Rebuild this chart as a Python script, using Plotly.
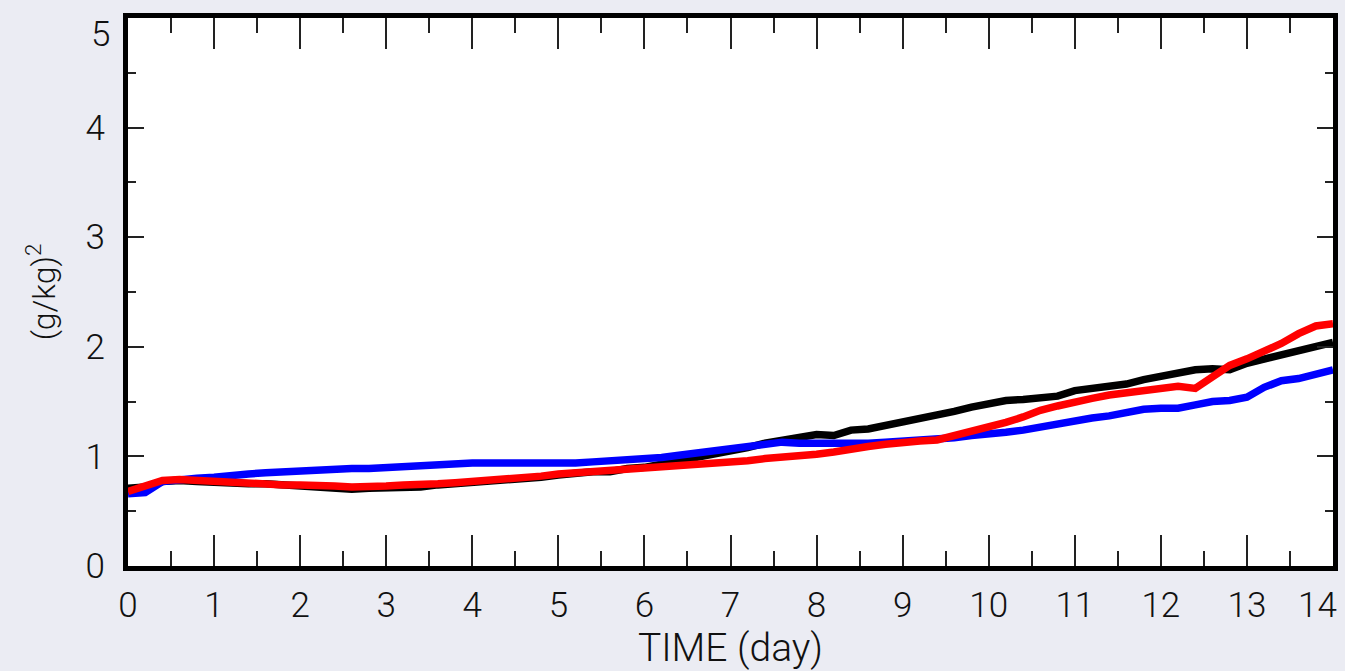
import plotly.graph_objects as go

# Time axis (days), sampled every 0.2 day
days = [round(i * 0.2, 1) for i in range(71)]

black_vals = [
    0.71, 0.72, 0.77, 0.78, 0.77, 0.76, 0.76, 0.75, 0.75, 0.74,
    0.73, 0.73, 0.71, 0.70, 0.71, 0.71, 0.72, 0.72, 0.74, 0.75,
    0.76, 0.77, 0.78, 0.80, 0.81, 0.83, 0.85, 0.86, 0.86, 0.89,
    0.90, 0.93, 0.95, 0.98, 1.01, 1.04, 1.08, 1.12, 1.15, 1.18,
    1.20, 1.19, 1.24, 1.25, 1.28, 1.32, 1.34, 1.37, 1.41, 1.45,
    1.48, 1.51, 1.52, 1.54, 1.55, 1.60, 1.62, 1.64, 1.66, 1.70,
    1.73, 1.76, 1.79, 1.80, 1.79, 1.85, 1.89, 1.93, 1.97, 2.01,
    2.04,
]

blue_vals = [
    0.66, 0.67, 0.77, 0.79, 0.80, 0.81, 0.83, 0.84, 0.85, 0.86,
    0.86, 0.87, 0.88, 0.89, 0.89, 0.90, 0.90, 0.91, 0.92, 0.93,
    0.94, 0.94, 0.94, 0.93, 0.93, 0.93, 0.94, 0.95, 0.96, 0.96,
    0.97, 0.99, 1.01, 1.03, 1.05, 1.07, 1.10, 1.12, 1.13, 1.12,
    1.12, 1.11, 1.12, 1.12, 1.13, 1.14, 1.14, 1.15, 1.17, 1.19,
    1.20, 1.22, 1.24, 1.27, 1.30, 1.33, 1.35, 1.37, 1.40, 1.43,
    1.44, 1.44, 1.47, 1.50, 1.51, 1.54, 1.63, 1.69, 1.71, 1.75,
    1.79,
]

red_vals = [
    0.68, 0.73, 0.78, 0.79, 0.78, 0.78, 0.77, 0.76, 0.75, 0.74,
    0.74, 0.74, 0.73, 0.72, 0.72, 0.73, 0.74, 0.74, 0.75, 0.76,
    0.77, 0.78, 0.80, 0.81, 0.82, 0.84, 0.85, 0.86, 0.87, 0.89,
    0.90, 0.91, 0.92, 0.92, 0.93, 0.94, 0.96, 0.98, 0.99, 1.01,
    1.02, 1.04, 1.07, 1.09, 1.11, 1.13, 1.14, 1.15, 1.19, 1.23,
    1.26, 1.31, 1.36, 1.42, 1.46, 1.50, 1.53, 1.56, 1.58, 1.59,
    1.62, 1.64, 1.62, 1.72, 1.83, 1.89, 1.96, 2.03, 2.12, 2.19,
    2.21,
]

# Axis labels; the outermost ones are placed separately so they stay inside the page
x_labels = list(range(0, 14))
x_last = 14
y_labels = [0, 1, 2, 3, 4]
y_last = 5

FONT = "Roboto"
BG = "#ebecf3"
TICK_COLOR = "#222222"
TEXT_COLOR = "#111111"

fig = go.Figure()
for vals, color in [(black_vals, "#000000"), (blue_vals, "#0000ff"), (red_vals, "#ff0000")]:
    fig.add_trace(go.Scatter(
        x=days, y=vals, mode="lines",
        line=dict(color=color, width=7.5),
        showlegend=False, hoverinfo="skip",
    ))

fig.update_layout(
    width=1345, height=671,
    margin=dict(l=128, r=12, t=18, b=105),
    paper_bgcolor=BG, plot_bgcolor="white",
    font=dict(family=FONT, color=TEXT_COLOR, weight=300),
    xaxis=dict(
        range=[0, x_last], tickvals=x_labels,
        ticks="inside", ticklen=31, tickwidth=1.5, tickcolor=TICK_COLOR,
        minor=dict(dtick=0.5, ticks="inside", ticklen=15, tickwidth=1.5, tickcolor=TICK_COLOR),
        showline=True, linecolor="black", linewidth=5, mirror="allticks",
        showgrid=False, zeroline=False,
        tickfont=dict(size=35, family=FONT, weight=300),
        ticklabelstandoff=4,
        title=dict(text="TIME (day)", font=dict(size=39, family=FONT, weight=300), standoff=14),
        automargin=False,
    ),
    yaxis=dict(
        range=[0, y_last], tickvals=y_labels,
        ticks="inside", ticklen=16, tickwidth=1.5, tickcolor=TICK_COLOR,
        minor=dict(dtick=0.5, ticks="inside", ticklen=8, tickwidth=1.5, tickcolor=TICK_COLOR),
        showline=True, linecolor="black", linewidth=5, mirror="allticks",
        showgrid=False, zeroline=False,
        tickfont=dict(size=35, family=FONT, weight=300),
        ticklabelstandoff=11,
        title=dict(text="(g/kg)<sup>2</sup>", font=dict(size=32, family=FONT, weight=300), standoff=22),
        automargin=False,
    ),
)

label_font = dict(size=35, family=FONT, weight=300, color=TEXT_COLOR)
fig.add_annotation(
    x=x_last, y=0, xref="x", yref="paper",
    text=str(x_last), showarrow=False,
    xanchor="right", yanchor="top", xshift=6, yshift=-17,
    font=label_font,
)
fig.add_annotation(
    x=0, y=y_last, xref="paper", yref="y",
    text=str(y_last), showarrow=False,
    xanchor="right", yanchor="top", xshift=-16, yshift=6,
    font=label_font,
)

fig.write_html("out.html")
